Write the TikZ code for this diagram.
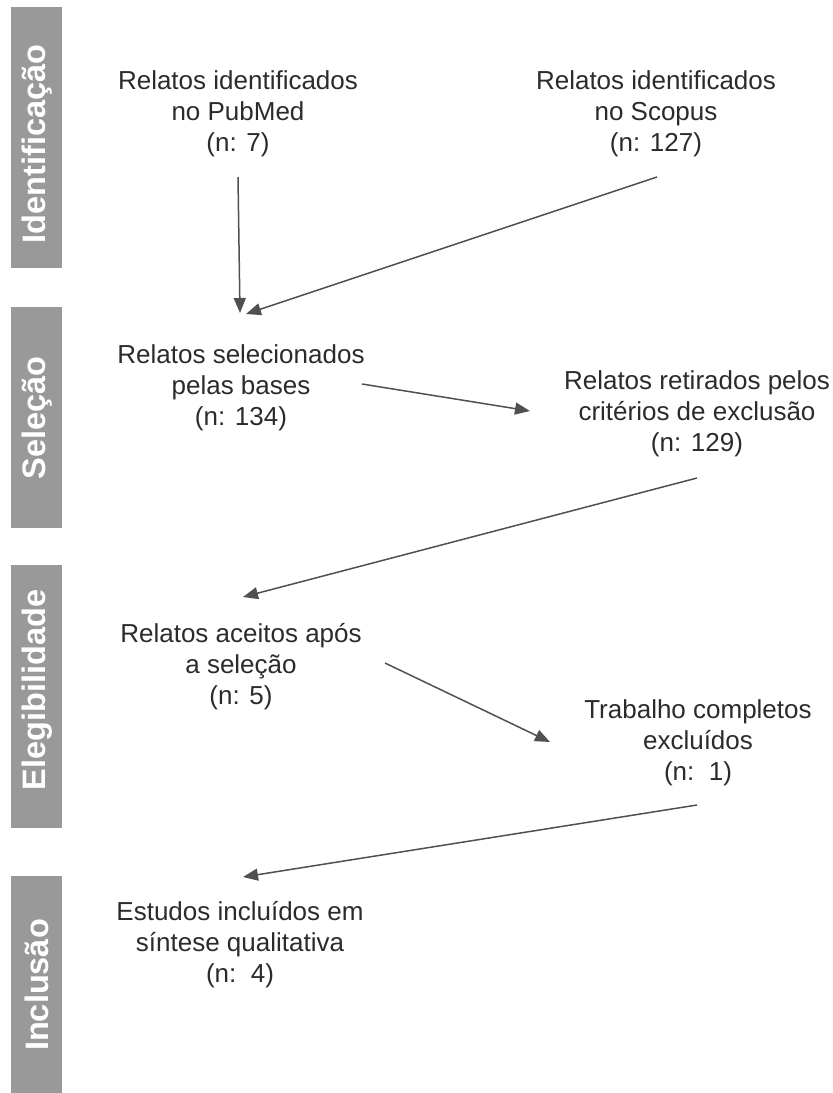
\documentclass[tikz,border=0pt]{standalone}
\usepackage{fontspec}
\setmainfont{Liberation Sans}
\usetikzlibrary{arrows.meta,calc}
\definecolor{bargrey}{HTML}{999999}
\definecolor{txtgrey}{HTML}{2B2B2B}
\definecolor{arrgrey}{HTML}{505050}
\begin{document}
\begin{tikzpicture}[x=1pt,y=-1pt,
  stage/.style={fill=bargrey,draw=none},
  stagelabel/.style={rotate=90,text=white,font=\fontsize{32.5}{38}\selectfont\bfseries,inner sep=0pt},
  entry/.style={align=center,text=txtgrey,font=\fontsize{26}{31}\selectfont,inner sep=0pt},
  flow/.style={draw=arrgrey,line width=1.5pt,-{Triangle[length=15pt,width=12pt]}}]
\useasboundingbox (0,0) rectangle (833,1093);

% stage bars on the left
\fill[stage] (11,7) rectangle (62,268);
\fill[stage] (11,307) rectangle (62,528);
\fill[stage] (11,565) rectangle (62,828);
\fill[stage] (11,876) rectangle (62,1093);
\node[stagelabel] (lid) at (37,144) {Identificação};
\node[stagelabel] (lsel) at (37,418) {Seleção};
\node[stagelabel] (leg) at (37,690) {Elegibilidade};
\node[stagelabel] (linc) at (37,985) {Inclusão};

% flow entries
\node[entry] (pub) at (238,114) {Relatos identificados\\no PubMed\\(n: 7)};
\node[entry] (sco) at (656,114) {Relatos identificados\\no Scopus\\(n: 127)};
\node[entry] (sel) at (241,388) {Relatos selecionados\\pelas bases\\(n: 134)};
\node[entry] (ret) at (697,414) {Relatos retirados pelos\\critérios de exclusão\\(n: 129)};
\node[entry] (ace) at (241,667) {Relatos aceitos após\\a seleção\\(n: 5)};
\node[entry] (trab) at (698,743) {Trabalho completos\\excluídos\\(n:\ \ 1)};
\node[entry] (est) at (240,945) {Estudos incluídos em\\síntese qualitativa\\(n:\ \ 4)};

% connectors
\draw[flow] ($(pub.center)+(0,63)$) -- ($(sel.center)+(-1,-75)$);
\draw[flow] ($(sco.center)+(1,63)$) -- ($(sel.center)+(5,-74)$);
\draw[flow] ($(sel.center)+(121,-4)$) -- ($(ret.center)+(-167,-3)$);
\draw[flow] ($(ret.center)+(0,64)$) -- ($(ace.center)+(2,-70)$);
\draw[flow] ($(ace.center)+(144,-4)$) -- ($(trab.center)+(-148,-1)$);
\draw[flow] ($(trab.center)+(-1,62)$) -- ($(est.center)+(3,-68)$);
\end{tikzpicture}
\end{document}
